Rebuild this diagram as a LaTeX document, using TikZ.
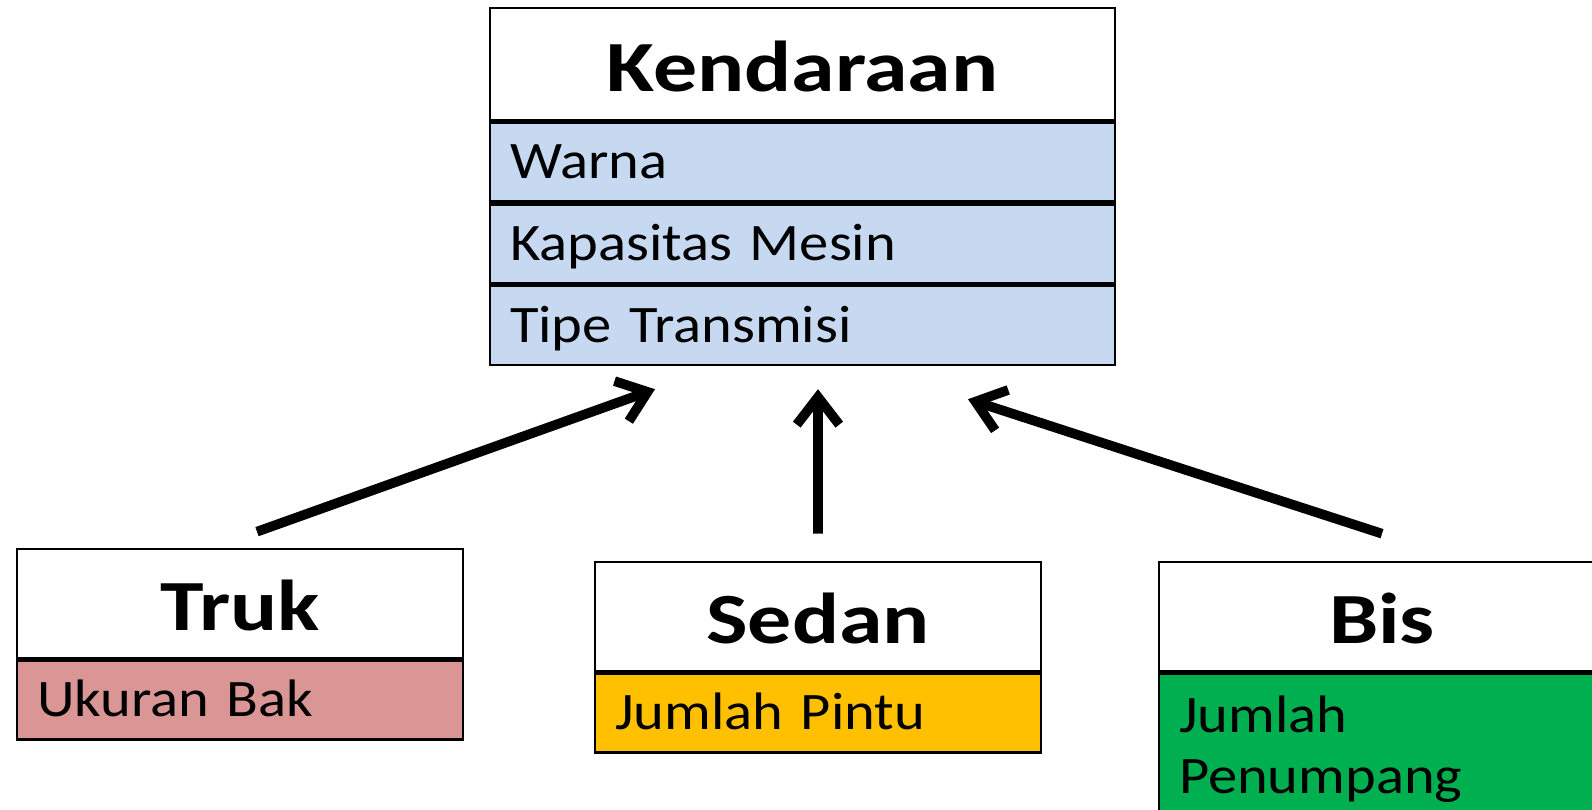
\documentclass[tikz,border=0pt]{standalone}
\usepackage{fontspec}
\setmainfont{Carlito}[FakeStretch=1.11, BoldFeatures={FakeStretch=1.22}]
\usetikzlibrary{positioning,arrows.meta}

\definecolor{kendblue}{RGB}{198,217,241}
\definecolor{trukred}{RGB}{217,150,148}
\definecolor{sedanyellow}{RGB}{255,192,0}
\definecolor{bisgreen}{RGB}{0,176,80}

\begin{document}
\begin{tikzpicture}[
    classhead/.style={draw, line width=1.5pt, fill=white, inner sep=0pt,
      font=\fontsize{41}{48}\selectfont\bfseries, text height=31pt, text depth=0pt},
    attrrow/.style={draw, line width=1.5pt, fill=#1, inner xsep=0.4cm, inner ysep=0pt,
      align=left, minimum height=1.58cm, font=\fontsize{30}{34.6}\selectfont,
      text height=19pt, text depth=0pt},
    arr/.style={line width=5.5pt, -{Straight Barb[length=0.55cm, width=0.85cm]}}
  ]
    \useasboundingbox (0,0) rectangle (31.84,16.2);
    % Parent class
    \node[classhead, minimum width=12.5cm, minimum height=2.24cm] (kend) at (16.05,14.92) {Kendaraan};
    \node[attrrow=kendblue, text width=11.7cm, below=0pt of kend] (kend-1) {Warna};
    \node[attrrow=kendblue, text width=11.7cm, below=0pt of kend-1] (kend-2) {Kapasitas Mesin};
    \node[attrrow=kendblue, text width=11.7cm, below=0pt of kend-2] (kend-3) {Tipe Transmisi};
    % Child classes
    \node[classhead, minimum width=8.92cm, minimum height=2.18cm] (truk) at (4.8,4.13) {Truk};
    \node[attrrow=trukred, text width=8.12cm, below=0pt of truk] (truk-1) {Ukuran Bak};
    \node[classhead, minimum width=8.92cm, minimum height=2.18cm] (sedan) at (16.36,3.87) {Sedan};
    \node[attrrow=sedanyellow, text width=8.12cm, below=0pt of sedan] (sedan-1) {Jumlah Pintu};
    \node[classhead, minimum width=8.92cm, minimum height=2.18cm] (bis) at (27.64,3.87) {Bis};
    \node[attrrow=bisgreen, text width=8.12cm, text height=, text depth=, minimum height=0pt,
      inner ysep=0.45cm, below=0pt of bis] (bis-1) {Jumlah\\Penumpang};
    % Inheritance arrows
    \draw[arr] ([shift={(0.34,0.32)}]truk.north) -- ([shift={(-2.95,-0.46)}]kend-3.south);
    \draw[arr] ([yshift=0.54cm]sedan.north) -- ([shift={(0.31,-0.46)}]kend-3.south);
    \draw[arr] ([yshift=0.54cm]bis.north) -- ([shift={(3.31,-0.66)}]kend-3.south);
  \end{tikzpicture}
\end{document}
